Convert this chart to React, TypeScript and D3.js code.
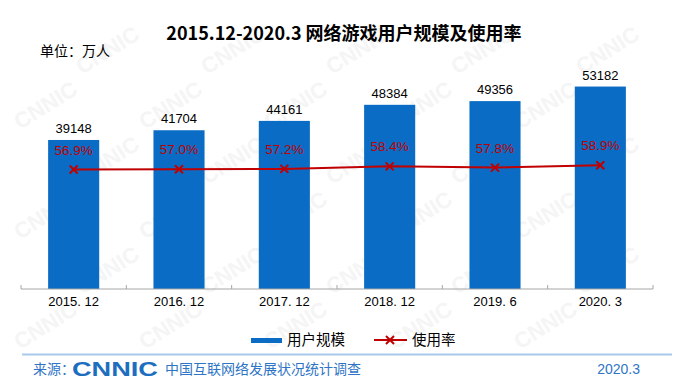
import React from "react";
import * as d3 from "d3";

const categories = ["2015. 12", "2016. 12", "2017. 12", "2018. 12", "2019. 6", "2020. 3"];
const users = [39148, 41704, 44161, 48384, 49356, 53182];
const rates = [56.9, 57.0, 57.2, 58.4, 57.8, 58.9];
const titleText = "2015.12-2020.3 网络游戏用户规模及使用率";
const unitText = "单位：万人";
const legendLabels = ["用户规模", "使用率"];

const W = 688;
const H = 381;
const CJK = "'Noto Sans CJK SC', 'Liberation Sans', sans-serif";
const ARIAL = "'Liberation Sans', Arial, sans-serif";
const BLUE = "#0a6cc4";
const RED = "#c00000";

export default function App() {
  const x = d3.scaleBand<string>().domain(categories).range([21, 653]).paddingInner(0.515).paddingOuter(0.2575);
  const xc = (c: string) => (x(c) as number) + x.bandwidth() / 2;
  const y = d3.scaleLinear().domain([0, 60000]).range([289, 60.6]);
  const yr = d3.scaleLinear().domain([0, 100]).range([289, 79]);
  const line = d3
    .line<number>()
    .x((_, i) => xc(categories[i]))
    .y((d) => yr(d));

  const ticks = d3.range(categories.length + 1).map((i) => 21 + (i * (653 - 21)) / categories.length);

  const wm: { x: number; y: number }[] = [];
  for (let r = 1; r < 7; r++) {
    for (let c = 0; c < 6; c++) {
      const px = 20 + c * 125 + (r % 2) * 62;
      const py = 20 + r * 55;
      if (px > 10 && px + 80 < W && py - 50 > 0 && py < H - 5) wm.push({ x: px, y: py });
    }
  }

  return (
    <svg
      width={W}
      height={H}
      style={{ position: "absolute", left: 0, top: 0, background: "#fff" }}
    >
      <rect x={0} y={0} width={W} height={H} fill="#fff" />
      <g>
        {wm.map((p, i) => (
          <text
            key={i}
            x={p.x}
            y={p.y}
            transform={`rotate(-32 ${p.x} ${p.y})`}
            fontFamily={ARIAL}
            fontWeight="bold"
            fontSize={22}
            fill="#f5f5f5"
          >
            CNNIC
          </text>
        ))}
      </g>
      <text x={344} y={40} textAnchor="middle" fontFamily={CJK} fontWeight="bold" fontSize={18} fill="#000">
        {titleText}
      </text>
      <text x={40} y={56} fontFamily={CJK} fontSize={14} fill="#000">
        {unitText}
      </text>
      {categories.map((c, i) => (
        <g key={c}>
          <rect x={x(c)} y={y(users[i])} width={x.bandwidth()} height={289 - y(users[i])} fill={BLUE} />
          <text x={xc(c)} y={y(users[i]) - 7} textAnchor="middle" fontFamily={ARIAL} fontSize={13} fill="#000">
            {users[i]}
          </text>
          <text x={xc(c)} y={306} textAnchor="middle" fontFamily={ARIAL} fontSize={13} fill="#000">
            {c}
          </text>
        </g>
      ))}
      <line x1={21} x2={653} y1={289} y2={289} stroke="#a6a6a6" strokeWidth={1} />
      {ticks.map((t, i) => (
        <line key={i} x1={t} x2={t} y1={289} y2={285} stroke="#a6a6a6" strokeWidth={1} />
      ))}
      <path d={line(rates) || ""} fill="none" stroke={RED} strokeWidth={2} />
      {rates.map((r, i) => {
        const cx = xc(categories[i]);
        const cy = yr(r);
        return (
          <g key={i}>
            <path d={`M${cx - 4},${cy - 4}L${cx + 4},${cy + 4}M${cx - 4},${cy + 4}L${cx + 4},${cy - 4}`} stroke={RED} strokeWidth={2} />
            <text x={cx} y={cy - 15} textAnchor="middle" fontFamily={ARIAL} fontSize={13.5} fill={RED}>
              {r.toFixed(1)}%
            </text>
          </g>
        );
      })}
      {/* legend */}
      <rect x={251} y={338} width={31} height={5} fill={BLUE} />
      <text x={287} y={345} fontFamily={CJK} fontSize={14.5} fill="#000">
        {legendLabels[0]}
      </text>
      <line x1={374} x2={407} y1={340} y2={340} stroke={RED} strokeWidth={2} />
      <path d="M386,336L394,344M386,344L394,336" stroke={RED} strokeWidth={2} />
      <text x={412} y={345} fontFamily={CJK} fontSize={14.5} fill="#000">
        {legendLabels[1]}
      </text>
      {/* footer */}
      <line x1={22} x2={672} y1={354.5} y2={354.5} stroke="#a9c9ec" strokeWidth={2} />
      <text x={33} y={374} fontFamily={CJK} fontSize={14} fill="#2f75c6">
        来源：
      </text>
      <text x={72} y={376} fontFamily={ARIAL} fontWeight="bold" fontSize={20} fill="#1e6ec0" textLength={86} lengthAdjust="spacingAndGlyphs">
        CNNIC
      </text>
      <text x={165} y={374} fontFamily={CJK} fontSize={14} fill="#2f75c6">
        中国互联网络发展状况统计调查
      </text>
      <text x={640} y={374} textAnchor="end" fontFamily={ARIAL} fontSize={14} fill="#2f75c6">
        2020.3
      </text>
    </svg>
  );
}
